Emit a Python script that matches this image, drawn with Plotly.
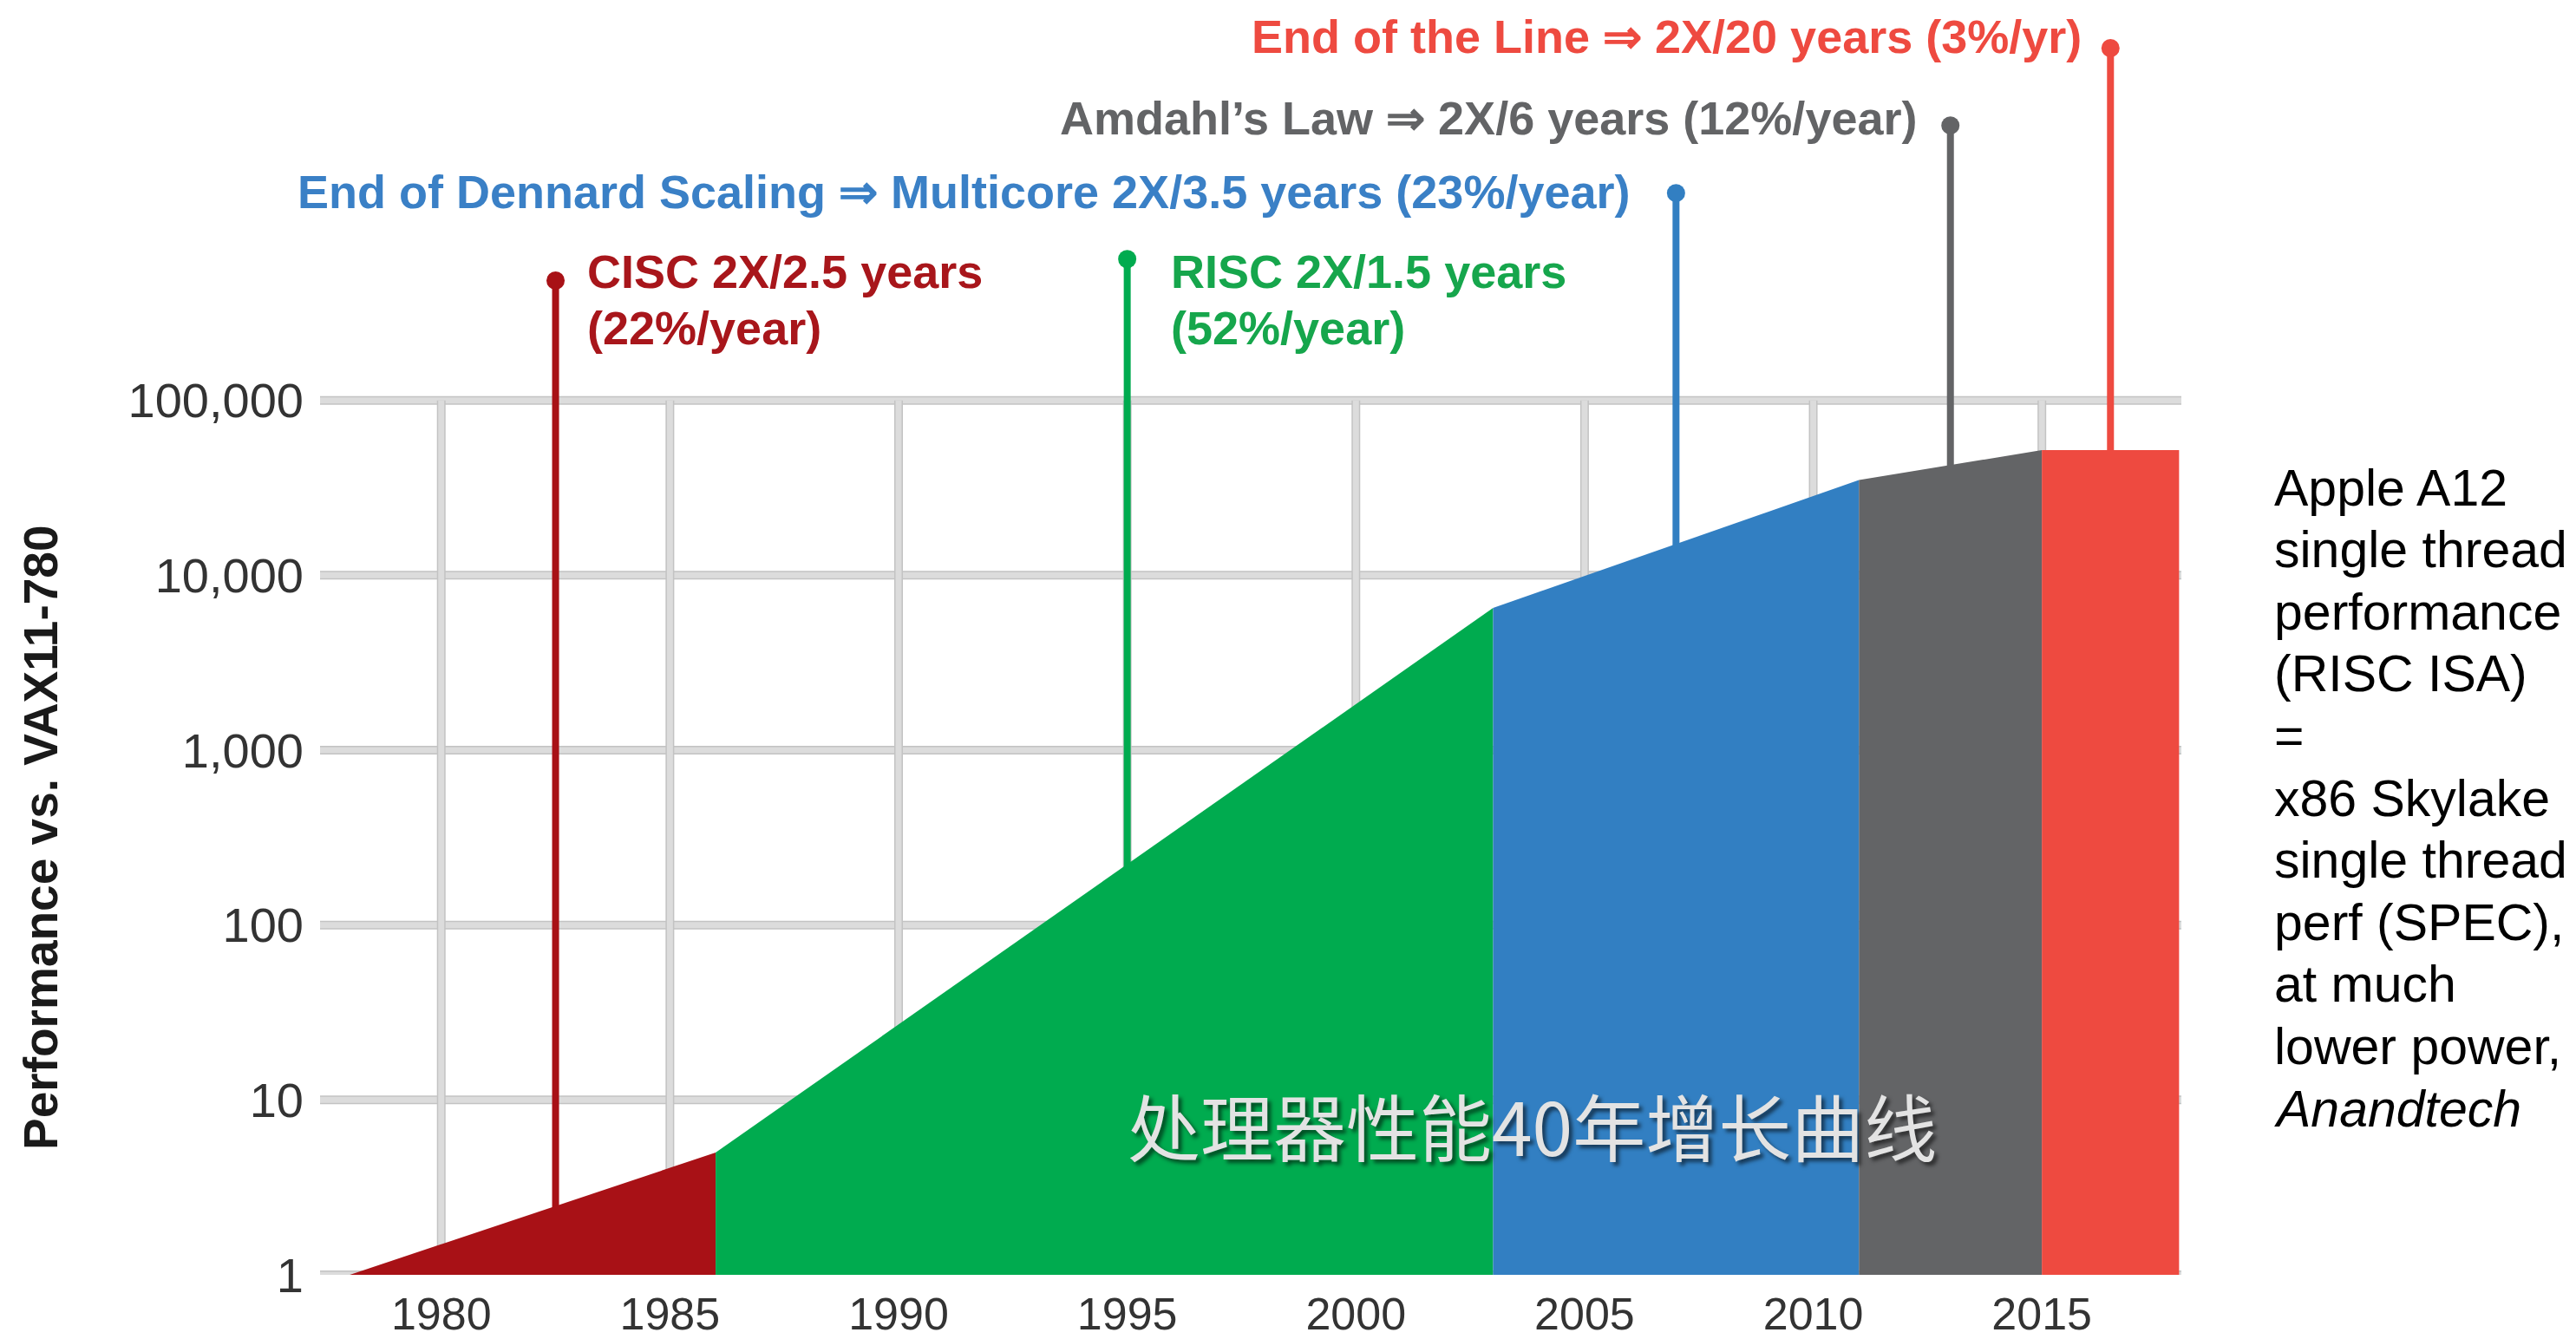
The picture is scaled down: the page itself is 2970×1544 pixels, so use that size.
import plotly.graph_objects as go

# ---- data -------------------------------------------------------------
# Era boundaries (year) and single-thread performance relative to VAX-11/780
years = [1978, 1986, 2003, 2011, 2015, 2018]
performance = [1, 5, 6500, 35000, 52000, 52000]
era_names = ["CISC", "RISC", "Dennard", "Amdahl", "End of the Line"]

# Year at which each era's callout pin stands
pin_years = [1982.5, 1995, 2007, 2013, 2016.5]

y_ticks = [1, 10, 100, 1000, 10000, 100000]
y_tick_text = ["1", "10", "100", "1,000", "10,000", "100,000"]
x_ticks = [1980, 1985, 1990, 1995, 2000, 2005, 2010, 2015]

side_note = ["Apple A12", "single thread", "performance", "(RISC ISA)", "=",
             "x86 Skylake", "single thread", "perf (SPEC),", "at much",
             "lower power,", "<i>Anandtech</i>"]

# ---- styling / geometry ------------------------------------------------
era_colors = ["#a81116", "#00ab4f", "#327fc2", "#636466", "#ee4a40"]
label_colors = ["#a8161b", "#16a64c", "#3a80c6", "#636466", "#ee4a40"]

W, H = 2970, 1544
L, R, T, B = 369, 2515, 18, 1470
X_RANGE = [1977.35, 2018.05]
Y_RANGE = [0, 7.2]                       # log10 decades
pin_tops = [5.685, 5.808, 6.185, 6.572, 7.014]   # pin heads, in decades

ANNOT_FONT = "Liberation Sans, Arial, sans-serif"


def px(xp):
    return (xp - L) / (R - L)


def py(yp):
    return (B - yp) / (B - T)


fig = go.Figure()

# callout pins (drawn first so the filled areas cover their feet)
for yr, top, col in zip(pin_years, pin_tops, era_colors):
    fig.add_trace(go.Scatter(x=[yr, yr], y=[1, 10 ** top], mode="lines",
                             line=dict(color=col, width=8),
                             hoverinfo="skip", showlegend=False))
    fig.add_trace(go.Scatter(x=[yr], y=[10 ** top], mode="markers",
                             marker=dict(color=col, size=21),
                             hoverinfo="skip", showlegend=False))

# one filled region per era
for i, name in enumerate(era_names):
    xs = [years[i], years[i], years[i + 1], years[i + 1]]
    ys = [1, performance[i], performance[i + 1], 1]
    fig.add_trace(go.Scatter(x=xs, y=ys, fill="toself", mode="none",
                             fillcolor=era_colors[i], name=name,
                             hoverinfo="skip", showlegend=False))

# two-tone grid: darker rim underneath, lighter core on top
shapes = []
for col, wid in (("#c3c3c3", 10), ("#dcdcdc", 7)):
    for v in y_ticks:
        shapes.append(dict(type="line", xref="paper", yref="y", x0=0, x1=1,
                           y0=v, y1=v, line=dict(color=col, width=wid),
                           layer="below"))
    for yr in x_ticks:
        shapes.append(dict(type="line", xref="x", yref="y", x0=yr, x1=yr,
                           y0=y_ticks[0], y1=y_ticks[-1],
                           line=dict(color=col, width=wid), layer="below"))

annotations = []


def label(text, xp, yp, color, anchor="left", size=54, bold=True):
    annotations.append(dict(
        text=text, xref="paper", yref="paper", x=px(xp), y=py(yp),
        xanchor=anchor, yanchor="middle", showarrow=False,
        font=dict(family=ANNOT_FONT, size=size, color=color,
                  weight="bold" if bold else "normal")))


label("End of the Line \u21d2 2X/20 years (3%/yr)", 2402, 42, label_colors[4], "right")
label("Amdahl\u2019s Law \u21d2 2X/6 years (12%/year)", 2212, 136, label_colors[3], "right")
label("End of Dennard Scaling \u21d2 Multicore 2X/3.5 years (23%/year)", 341, 221,
      label_colors[2])
label("CISC 2X/2.5 years", 675, 313, label_colors[0])
label("(22%/year)", 675, 378, label_colors[0])
label("RISC 2X/1.5 years", 1348, 313, label_colors[1])
label("(52%/year)", 1348, 378, label_colors[1])

# side note, one line per annotation for tight leading
for k, line in enumerate(side_note):
    annotations.append(dict(
        text=line, xref="paper", yref="paper", x=px(2620), y=py(562.5 + 71.6 * k),
        xanchor="left", yanchor="middle", showarrow=False,
        font=dict(family="Liberation Sans, Arial, sans-serif", size=59,
                  color="#000000")))

# y-axis title
annotations.append(dict(
    text="Performance vs. VAX11-780", xref="paper", yref="paper",
    x=px(47), y=py(966), textangle=-90, xanchor="center", yanchor="middle",
    showarrow=False,
    font=dict(family=ANNOT_FONT, size=55, color="#1a1a1a", weight="bold")))

# chart caption over the filled area
annotations.append(dict(
    text="处理器性能40年增长曲线", xref="paper", yref="paper",
    x=px(1766), y=py(1296), xanchor="center", yanchor="middle",
    showarrow=False,
    font=dict(family="Noto Sans CJK SC", size=84, color="#e3e3e3",
              shadow="4px 4px 4px rgba(0,0,0,0.55)")))

fig.update_layout(
    width=W, height=H, autosize=False,
    margin=dict(l=L, r=W - R, t=T, b=H - B, pad=0),
    paper_bgcolor="white", plot_bgcolor="white",
    showlegend=False, hovermode=False,
    shapes=shapes, annotations=annotations,
    xaxis=dict(range=X_RANGE, tickvals=x_ticks, showgrid=False, zeroline=False,
               showline=False, ticks="", ticklabelstandoff=10, automargin=False,
               tickfont=dict(family="Liberation Sans, Arial, sans-serif", size=52,
                             color="#333333")),
    yaxis=dict(type="log", range=Y_RANGE, tickvals=y_ticks, ticktext=y_tick_text,
               showgrid=False, zeroline=False, showline=False, ticks="",
               ticklabelstandoff=18, automargin=False,
               tickfont=dict(family="Liberation Sans, Arial, sans-serif", size=56,
                             color="#333333")),
)

fig.write_html("out.html")
